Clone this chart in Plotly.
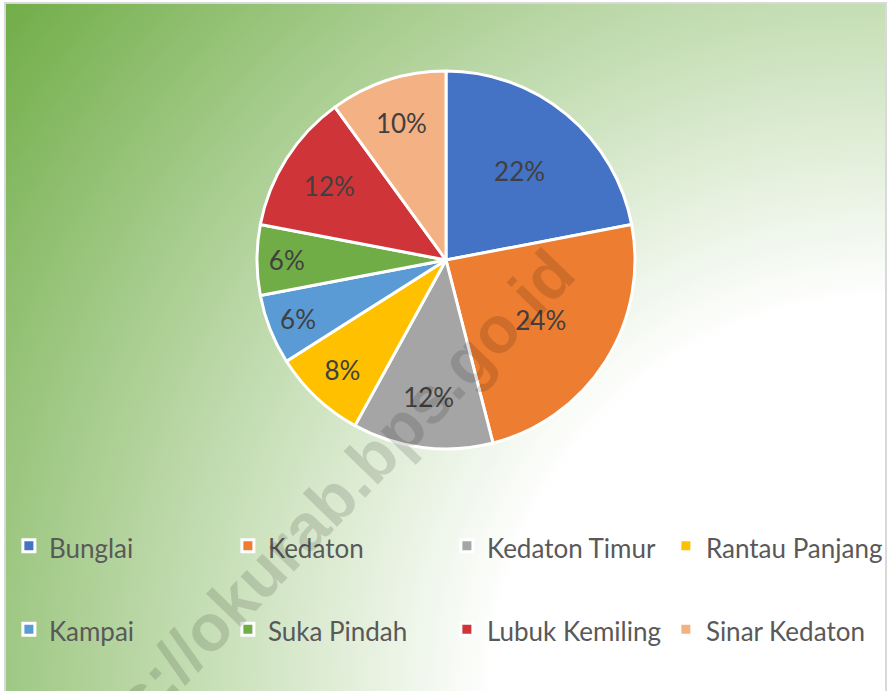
import base64
import plotly.graph_objects as go

# ---- data ----
labels = ["Bunglai", "Kedaton", "Kedaton Timur", "Rantau Panjang",
          "Kampai", "Suka Pindah", "Lubuk Kemiling", "Sinar Kedaton"]
values = [22, 24, 12, 8, 6, 6, 12, 10]
colors = ["#4472C4", "#ED7D31", "#A5A5A5", "#FFC000",
          "#5B9BD5", "#70AD47", "#CF3538", "#F4B183"]
watermark = "https://okurab.bps.go.id"

W, H = 889, 691

# legend labels: extra blank line to reproduce the wide row spacing
legend_labels = ['<span style="font-size:26px">%s</span><br> ' % s for s in labels]

# background radial gradient (white at bottom-right -> green at top-left)
bw, bh = 880, 688
svg = (
    f'<svg xmlns="http://www.w3.org/2000/svg" width="{bw}" height="{bh}">'
    '<defs><radialGradient id="g" gradientUnits="userSpaceOnUse" '
    f'cx="{bw}" cy="{bh}" r="1120">'
    '<stop offset="0" stop-color="#FFFFFF"/>'
    '<stop offset="0.35" stop-color="#FFFFFF"/>'
    '<stop offset="1" stop-color="#70AD47"/>'
    '</radialGradient></defs>'
    f'<rect width="{bw}" height="{bh}" fill="url(#g)"/></svg>'
)
bg_src = "data:image/svg+xml;base64," + base64.b64encode(svg.encode()).decode()

cx, cy, R = 446, 260, 189

fig = go.Figure(go.Pie(
    labels=legend_labels,
    values=values,
    sort=False,
    direction="clockwise",
    rotation=0,
    marker=dict(colors=colors, line=dict(color="#FFFFFF", width=3)),
    texttemplate="%{percent:.0%}",
    textposition="inside",
    insidetextorientation="horizontal",
    textfont=dict(family="Lato", size=26, color="#404040"),
    hoverinfo="skip",
    domain=dict(x=[(cx - R) / W, (cx + R) / W],
                y=[1 - (cy + R) / H, 1 - (cy - R) / H]),
))

fig.update_layout(
    width=W, height=H,
    margin=dict(l=0, r=0, t=0, b=0, autoexpand=False),
    paper_bgcolor="#FFFFFF",
    plot_bgcolor="rgba(0,0,0,0)",
    uniformtext=dict(minsize=26, mode="show"),
    showlegend=True,
    legend=dict(
        orientation="h",
        x=0.01, xanchor="left",
        y=1 - 519 / H, yanchor="top",
        entrywidth=174, entrywidthmode="pixels",
        valign="top",
        font=dict(family="Lato", size=31, color="#595959"),
        bgcolor="rgba(0,0,0,0)",
        traceorder="normal",
    ),
    images=[dict(
        source=bg_src, xref="paper", yref="paper",
        x=6 / W, y=1 - 4 / H, sizex=(bw) / W, sizey=(bh) / H,
        xanchor="left", yanchor="top", sizing="stretch", layer="below",
    )],
    shapes=[dict(
        type="rect", xref="paper", yref="paper",
        x0=5 / W, x1=886 / W, y0=-0.02, y1=1 - 3 / H,
        line=dict(color="#D9D9D9", width=2), fillcolor="rgba(0,0,0,0)",
        layer="below",
    )],
    annotations=[dict(
        text="<b>" + watermark + "</b>",
        x=301 / W, y=1 - 531 / H, xref="paper", yref="paper",
        xanchor="center", yanchor="middle",
        textangle=-46, showarrow=False,
        font=dict(family="Liberation Sans", size=66, color="rgba(0,0,0,0.13)"),
    )],
)

fig.write_html("out.html",
               config={"displayModeBar": False},
               post_script="document.body.style.margin='0';document.body.style.overflow='hidden';")
